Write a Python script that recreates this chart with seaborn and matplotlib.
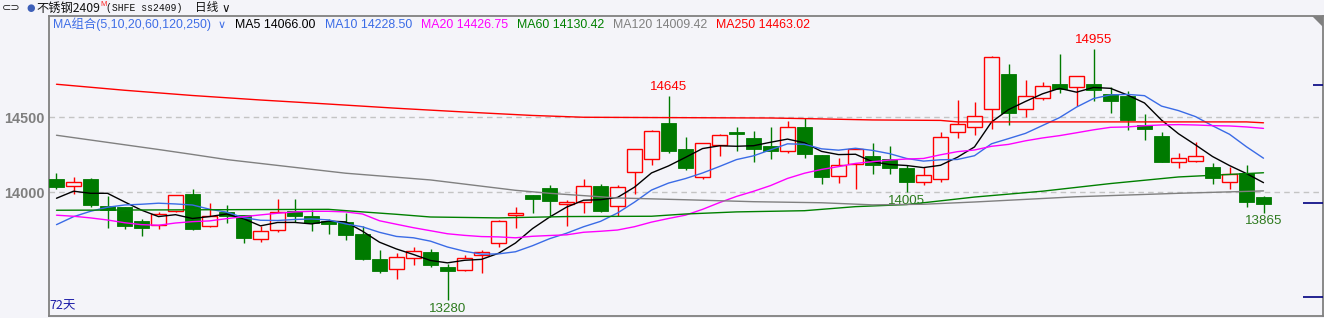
import numpy as np
import pandas as pd
import matplotlib
matplotlib.use("Agg")
import matplotlib.pyplot as plt
import seaborn as sns
from matplotlib.patches import Polygon

# ---------------- data ----------------
opens = [14089, 14040, 14089, 13909, 13902, 13809, 13780, 13877, 13989, 13777,
         13869, 13847, 13687, 13747, 13875, 13840, 13809, 13802, 13722, 13555,
         13487, 13560, 13602, 13502, 13480, 13580, 13660, 13847, 13982, 14029,
         13920, 13933, 14042, 13907, 14135, 14222, 14462, 14287, 14100, 14317,
         14402, 14362, 14307, 14277, 14435, 14249, 14107, 14189, 14242, 14220,
         14162, 14071, 14087, 14400, 14433, 14553, 14789, 14553, 14627, 14722,
         14700, 14722, 14655, 14642, 14451, 14375, 14200, 14207, 14169, 14067,
         14127, 13969]
highs = [14131, 14102, 14095, 13975, 13905, 13822, 13871, 13985, 14020, 13927,
         13913, 13850, 13775, 13953, 13953, 13880, 13820, 13860, 13777, 13615,
         13593, 13633, 13622, 13522, 13580, 13615, 13817, 13900, 13985, 14051,
         13949, 14089, 14055, 14049, 14290, 14413, 14645, 14367, 14330, 14389,
         14433, 14409, 14437, 14477, 14493, 14250, 14229, 14295, 14329, 14307,
         14182, 14171, 14404, 14615, 14602, 14909, 14855, 14749, 14735, 14922,
         14775, 14955, 14704, 14673, 14522, 14404, 14262, 14333, 14193, 14171,
         14182, 13977]
lows = [14019, 13987, 13904, 13764, 13757, 13711, 13757, 13866, 13749, 13769,
        13797, 13664, 13671, 13737, 13802, 13744, 13720, 13684, 13549, 13464,
        13420, 13517, 13500, 13280, 13478, 13464, 13637, 13764, 13864, 13837,
        13777, 13864, 13867, 13842, 13987, 14184, 14264, 14149, 14087, 14244,
        14277, 14202, 14222, 14264, 14227, 14057, 14062, 14024, 14124, 14124,
        14005, 14049, 14069, 14364, 14382, 14420, 14451, 14504, 14613, 14664,
        14577, 14611, 14527, 14417, 14351, 14200, 14164, 14205, 14057, 14024,
        13904, 13865]
closes = [14037, 14067, 13917, 13882, 13777, 13760, 13853, 13980, 13755, 13842,
          13844, 13697, 13742, 13867, 13844, 13795, 13791, 13717, 13555, 13477,
          13569, 13607, 13517, 13477, 13562, 13600, 13809, 13860, 13957, 13944,
          13933, 14040, 13877, 14033, 14287, 14407, 14273, 14162, 14327, 14380,
          14391, 14291, 14277, 14433, 14257, 14104, 14184, 14289, 14184, 14164,
          14071, 14113, 14367, 14453, 14507, 14900, 14527, 14640, 14707, 14689,
          14773, 14684, 14611, 14484, 14424, 14204, 14227, 14240, 14097, 14122,
          13937, 13924]

# moving-average values at the start of the window (history not shown)
ma5_head = [13960, 14007, 13993, 13993]
ma10_head = [13784, 13837, 13873, 13900, 13915, 13920, 13927, 13922, 13915]
ma20_head = [13847, 13840, 13829, 13815, 13797, 13784, 13780, 13795, 13804, 13809,
             13824, 13837, 13849, 13860, 13869, 13873, 13873, 13869, 13855]

# long moving averages, read at selected sessions
ma60_idx = [0, 16, 18, 20, 22, 26, 30, 35, 37, 40, 44, 47, 50, 51, 54, 58, 62, 66, 71]
ma60_val = [13880, 13886, 13869, 13853, 13835, 13829, 13838, 13840, 13855, 13869,
            13877, 13904, 13918, 13930, 13968, 14007, 14058, 14102, 14130]
ma120_idx = [0, 6, 8, 10, 17, 22, 27, 29, 33, 37, 41, 45, 48, 51, 54, 60, 66, 71]
ma120_val = [14380, 14285, 14252, 14218, 14127, 14082, 14013, 13993, 13962, 13950,
             13937, 13930, 13916, 13920, 13935, 13970, 13993, 14009]
ma250_idx = [0, 4, 8, 12, 16, 20, 24, 28, 31, 35, 42, 45, 48, 52, 53, 70, 71]
ma250_val = [14720, 14680, 14645, 14615, 14588, 14560, 14535, 14512, 14500, 14498,
             14495, 14489, 14482, 14479, 14469, 14469, 14463]

ma_names = ["MA5", "MA10", "MA20", "MA60", "MA120", "MA250"]
ma_last = ["14066.00", "14228.50", "14426.75", "14130.42", "14009.42", "14463.02"]
ma_colors = ["#000000", "#3a6be6", "#ff00ff", "#008000", "#808080", "#ff0000"]

yticks = [14000, 14500]
hi_marks = [36, 61]      # sessions labelled with their high
lo_marks = [23, 50, 71]  # sessions labelled with their low
days_label = "72天"
title = "不锈钢2409"
code_text = "(SHFE ss2409)"
period_text = "日线"
group_text = "MA组合(5,10,20,60,120,250)"

# ---------------- derived series ----------------
n = len(closes)
idx = np.arange(n)
cs = pd.Series(closes, dtype=float)
ma5 = cs.rolling(5).mean().to_numpy()
ma5[:4] = ma5_head
ma10 = cs.rolling(10).mean().to_numpy()
ma10[:9] = ma10_head
ma20 = cs.rolling(20).mean().to_numpy()
ma20[:19] = ma20_head

frames = [
    pd.DataFrame({"i": idx, "v": ma5, "ma": "MA5"}),
    pd.DataFrame({"i": idx, "v": ma10, "ma": "MA10"}),
    pd.DataFrame({"i": idx, "v": ma20, "ma": "MA20"}),
    pd.DataFrame({"i": ma60_idx, "v": ma60_val, "ma": "MA60"}),
    pd.DataFrame({"i": ma120_idx, "v": ma120_val, "ma": "MA120"}),
    pd.DataFrame({"i": ma250_idx, "v": ma250_val, "ma": "MA250"}),
]
ma_df = pd.concat(frames, ignore_index=True)

# ---------------- style ----------------
W, H = 1324, 318
BG = "#f4f4f9"
GREEN = "#007a00"
RED = "#ff0000"
GRID = "#c4c4c4"
AXC = "#808080"

sns.set_theme(style="white")
plt.rcParams["font.family"] = ["Noto Sans CJK SC", "DejaVu Sans"]

fig = plt.figure(figsize=(W / 100, H / 100), dpi=100, facecolor=BG)
ax = fig.add_axes([49 / W, 1 - 316 / H, (1323 - 49) / W, (316 - 16) / H])
ax.set_facecolor(BG)

# grid
for yv in yticks:
    ax.axhline(yv, color=GRID, lw=1.0, ls=(0, (4, 3)), zorder=1)

# candles
up = np.array(closes) >= np.array(opens)
o = np.array(opens, float)
c = np.array(closes, float)
bw = 0.86
wick_colors = [RED if u else GREEN for u in up]
ax.vlines(idx, lows, highs, colors=wick_colors, lw=1.0, zorder=2)
bottoms = np.minimum(o, c)
heights = np.maximum(np.abs(c - o), 1.5)
ax.bar(idx[up], heights[up], bottom=bottoms[up], width=bw, facecolor=BG,
       edgecolor=RED, linewidth=1.0, zorder=3)
ax.bar(idx[~up], heights[~up], bottom=bottoms[~up], width=bw, facecolor=GREEN,
       edgecolor=GREEN, linewidth=0.6, zorder=3)

# moving averages
sns.lineplot(data=ma_df, x="i", y="v", hue="ma", hue_order=ma_names,
             palette=dict(zip(ma_names, ma_colors)), estimator=None, sort=False,
             linewidth=1.0, legend=False, ax=ax, zorder=4)

# high / low labels
LAB_FONT = dict(family="Liberation Sans", size=9.6)
for k in hi_marks:
    ax.annotate(str(highs[k]), xy=(k, highs[k]), xytext=(0, 3), textcoords="offset pixels",
                ha="center", va="bottom", color=RED, **LAB_FONT)
for k in lo_marks:
    ax.annotate(str(lows[k]), xy=(k, lows[k]), xytext=(0, -3), textcoords="offset pixels",
                ha="center", va="top", color="#2d7a1e", **LAB_FONT)

# axes
ax.set_xlim((49 - 56.5) / 17, (1323 - 56.5) / 17)
ax.set_ylim(13175, 15175)
ax.set_xlabel("")
ax.set_ylabel("")
ax.set_yticks(yticks)
ax.set_yticklabels([str(v) for v in yticks], family="Liberation Sans", size=10.4,
                   color="#7f7f7f", fontweight="bold")
ax.tick_params(axis="y", length=0, pad=3)
ax.set_xticks([70.5])
ax.set_xticklabels([])
ax.tick_params(axis="x", direction="in", length=6.5, width=0.9, color=AXC)
for s in ["left", "right", "top", "bottom"]:
    ax.spines[s].set_visible(True)
    ax.spines[s].set_color(AXC)
    ax.spines[s].set_linewidth(1.3)

# right-side marks of the secondary scale
ax2 = ax.twinx()
ax2.set_ylim(ax.get_ylim())
ax2.set_yticks([13929, 13302])
ax2.set_yticks([14715], minor=True)
ax2.set_yticklabels([])
ax2.tick_params(axis="y", which="major", direction="in", length=14.4, width=1.2, color="#000080")
ax2.tick_params(axis="y", which="minor", direction="in", length=7.2, width=1.2, color="#000080")
ax2.tick_params(axis="y", labelright=False)
for s in ax2.spines.values():
    s.set_visible(False)

# corner triangle
fig.patches.append(Polygon([[1312 / W, 1 - 16 / H], [1323 / W, 1 - 16 / H], [1323 / W, 1 - 27 / H]],
                           closed=True, transform=fig.transFigure, facecolor=AXC, edgecolor="none"))


def T(x, y, s, **kw):
    fig.text(x / W, 1 - y / H, s, va="center", **kw)


# header row 1
T(2, 8, "⊂⊃", color="#222222", size=8, family="DejaVu Sans")
T(26, 8, "●", color="#3d5fb8", size=7, family="DejaVu Sans")
T(36, 8, title, color="#111111", size=8.8)
T(100, 4.5, "M", color="#ff2020", size=5.5, family="Liberation Sans")
T(106, 8, code_text, color="#111111", size=7.0, family="Liberation Mono")
T(195, 8, period_text, color="#111111", size=8.4)
T(221, 8, "∨", color="#111111", size=8.5, family="DejaVu Sans")

# header row 2
HF = dict(family=["Liberation Sans", "Noto Sans CJK SC"], size=8.9)
T(53, 24.5, group_text, color="#3f6ee6", **HF)
T(218, 24.5, "∨", color="#3f6ee6", size=8, family="DejaVu Sans")
xs = [235, 324.7, 420.7, 516.7, 612.7, 715.7]
for xx, nm, val, col in zip(xs, ma_names, ma_last, ma_colors):
    T(xx, 24.5, f"{nm} {val}", color=col, **HF)

# days label
T(49, 306, days_label, color="#1c1ca8", size=9)

fig.savefig("out.png", dpi=100, facecolor=BG)
